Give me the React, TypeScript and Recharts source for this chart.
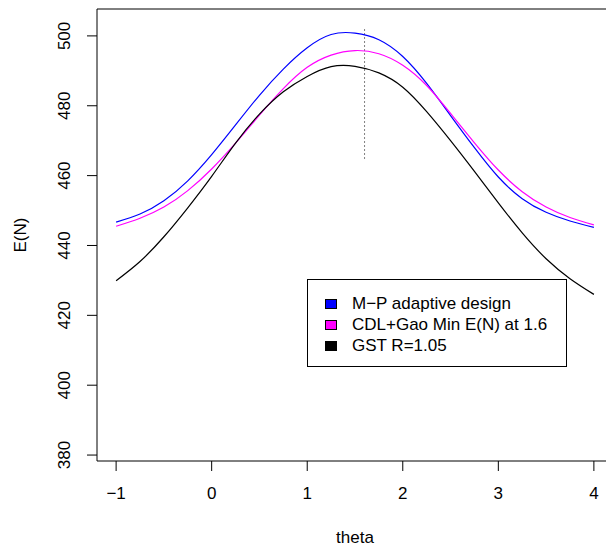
import React from 'react';
import { LineChart, Line, XAxis, YAxis, ReferenceArea, ReferenceLine, Legend, Label } from 'recharts';

const FONT = '"Liberation Sans", Arial, Helvetica, sans-serif';

const thetas = [-1, -0.75, -0.5, -0.25, 0, 0.25, 0.5, 0.75, 1, 1.25, 1.5, 1.75, 2, 2.25, 2.5, 2.75, 3, 3.25, 3.5, 3.75, 4];

// M-P adaptive design
const mpAdaptive = [446.7, 449.0, 452.8, 458.5, 466.0, 474.5, 483.0, 490.5, 496.6, 500.4, 500.8, 498.9, 494.1, 486.4, 477.2, 468.0, 459.6, 453.4, 449.5, 447.0, 445.2];
// CDL+Gao Min E(N) at 1.6
const cdlGao = [445.5, 447.8, 451.0, 455.7, 461.9, 469.3, 477.3, 484.9, 491.0, 494.5, 495.8, 494.9, 491.6, 485.8, 477.8, 469.4, 461.6, 455.4, 451.0, 448.0, 445.9];
// GST R=1.05
const gst = [429.9, 435.4, 442.5, 450.8, 459.8, 469.3, 477.6, 484.0, 488.4, 491.2, 491.3, 489.4, 485.3, 478.3, 470.0, 461.2, 452.2, 443.6, 436.2, 430.5, 426.0];

const seriesNames = ['M\u2212P adaptive design', 'CDL+Gao Min E(N) at 1.6', 'GST R=1.05'];

const xTicks = [-1, 0, 1, 2, 3, 4];
const yTicks = [380, 400, 420, 440, 460, 480, 500];
const optimumTheta = 1.6;

const data = thetas.map((t, i) => ({ theta: t, mp: mpAdaptive[i], cdl: cdlGao[i], gst: gst[i] }));

const minusFmt = (v: number) => String(v).replace('-', '\u2212');

function YTick(props: any) {
  const { x, y, payload } = props;
  return (
    <text x={x} y={y} transform={`rotate(-90 ${x} ${y})`} textAnchor="middle" fontSize={17} fontFamily={FONT} fill="#000">
      {payload.value}
    </text>
  );
}

function LegendBox(props: any) {
  const items = [...(props.payload || [])].sort(
    (a: any, b: any) => seriesNames.indexOf(a.value) - seriesNames.indexOf(b.value)
  );
  return (
    <div style={{ width: 260, height: 88, boxSizing: 'border-box', border: '1px solid #000', background: '#fff', paddingTop: 13, fontFamily: FONT, fontSize: 17, color: '#000' }}>
      {items.map((p: any) => (
        <div key={p.value} style={{ display: 'flex', alignItems: 'center', height: 21, lineHeight: '21px' }}>
          <span style={{ display: 'inline-block', marginLeft: 17, width: 12, height: 10, boxSizing: 'border-box', background: p.color, border: '1px solid #000' }} />
          <span style={{ marginLeft: 15 }}>{p.value}</span>
        </div>
      ))}
    </div>
  );
}

export default function App() {
  return (
    <div style={{ position: 'absolute', left: 0, top: 0, width: 606, height: 546, overflow: 'hidden', background: '#fff' }}>
      <LineChart width={620} height={546} data={data} margin={{ top: 9, right: 7, bottom: 0, left: 0 }}>
        <XAxis
          dataKey="theta"
          type="number"
          domain={[-1.2, 4.2]}
          ticks={xTicks}
          allowDataOverflow
          axisLine={false}
          tickSize={10}
          tickMargin={16}
          tickLine={{ stroke: '#000' }}
          tickFormatter={minusFmt}
          tick={{ fontSize: 17, fontFamily: FONT, fill: '#000' }}
          height={85}
        >
          <Label
            content={() => (
              <text x={355} y={543} textAnchor="middle" fontSize={17} fontFamily={FONT} fill="#000">theta</text>
            )}
          />
        </XAxis>
        <YAxis
          type="number"
          domain={[378.3, 507.7]}
          ticks={yTicks}
          allowDataOverflow
          axisLine={false}
          tickSize={10}
          tickMargin={17}
          tickLine={{ stroke: '#000' }}
          tick={<YTick />}
          width={97}
        >
          <Label
            content={() => (
              <text x={26} y={235} transform="rotate(-90 26 235)" textAnchor="middle" fontSize={17} fontFamily={FONT} fill="#000">E(N)</text>
            )}
          />
        </YAxis>
        <ReferenceArea x1={-1.2} x2={4.2} y1={378.3} y2={507.7} fill="none" stroke="#000" strokeWidth={1} fillOpacity={0} />
        <ReferenceLine
          segment={[{ x: optimumTheta, y: 464.9 }, { x: optimumTheta, y: 502.6 }]}
          stroke="#000"
          strokeDasharray="1 3"
          strokeWidth={1}
        />
        <Line name={seriesNames[0]} type="natural" dataKey="mp" stroke="#0000ff" strokeWidth={1.2} dot={false} isAnimationActive={false} />
        <Line name={seriesNames[1]} type="natural" dataKey="cdl" stroke="#ff00ff" strokeWidth={1.2} dot={false} isAnimationActive={false} />
        <Line name={seriesNames[2]} type="natural" dataKey="gst" stroke="#000000" strokeWidth={1.2} dot={false} isAnimationActive={false} />
        <Legend
          layout="vertical"
          align="center"
          verticalAlign="middle"
          content={<LegendBox />}
          wrapperStyle={{ left: 307, top: 279, width: 260, height: 88 }}
        />
      </LineChart>
    </div>
  );
}
